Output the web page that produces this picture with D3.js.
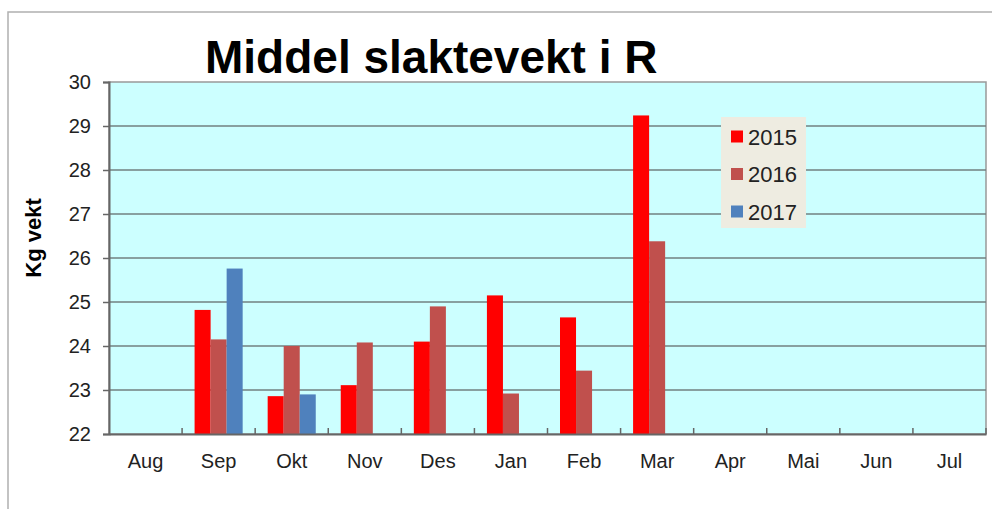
<!DOCTYPE html>
<html>
<head>
<meta charset="utf-8">
<script src="https://cdn.jsdelivr.net/npm/d3@7"></script>
<style>
  body { margin: 0; background: #fff; }
  text { font-family: "Liberation Sans", Arial, sans-serif; }
</style>
</head>
<body>
<div id="chart"></div>
<script>
// data
var months = ["Aug", "Sep", "Okt", "Nov", "Des", "Jan", "Feb", "Mar", "Apr", "Mai", "Jun", "Jul"];
var years = ["2015", "2016", "2017"];
var v2015 = [null, 24.82, 22.86, 23.11, 24.1, 25.15, 24.65, 29.24, null, null, null, null];
var v2016 = [null, 24.15, 24.0, 24.08, 24.9, 22.92, 23.44, 26.38, null, null, null, null];
var v2017 = [null, 25.76, 22.9, null, null, null, null, null, null, null, null, null];
var yTicks = [22, 23, 24, 25, 26, 27, 28, 29, 30];
var colors = ["#ff0000", "#c0504d", "#4f81bd"];

var series = [v2015, v2016, v2017];
var data = [];
months.forEach(function(m, i) {
  years.forEach(function(yr, j) {
    if (series[j][i] != null) data.push({ month: m, year: yr, value: series[j][i] });
  });
});

var W = 992, H = 509;
var margin = {top: 82, right: 6, bottom: 75, left: 109},
    width = W - margin.left - margin.right,
    height = H - margin.top - margin.bottom;

var root = d3.select("#chart")
  .append("svg")
    .attr("width", W)
    .attr("height", H);

// outer chart border
root.append("rect")
  .attr("x", 8).attr("y", 12)
  .attr("width", 1100).attr("height", 600)
  .attr("fill", "none")
  .attr("stroke", "#b0b0b0")
  .attr("stroke-width", 1.5);

// title
root.append("text")
  .attr("x", 205).attr("y", 73)
  .style("font-size", "46px")
  .style("font-weight", "bold")
  .attr("fill", "#000")
  .text("Middel slaktevekt i R");

// y label
root.append("text")
  .attr("transform", "translate(41,238)rotate(-90)")
  .attr("text-anchor", "middle")
  .style("font-size", "22px")
  .style("font-weight", "bold")
  .text("Kg vekt");

var svg = root.append("g")
  .attr("transform", "translate(" + margin.left + "," + margin.top + ")");

var x = d3.scaleBand().domain(months).range([0, width]).padding(0);
var x1 = d3.scaleBand().domain(years).range([0, x.bandwidth()]).paddingInner(0).paddingOuter(0.78);
var y = d3.scaleLinear().domain([22, 30]).range([height, 0]);
var color = d3.scaleOrdinal().domain(years).range(colors);

// plot background
svg.append("rect")
  .attr("width", width).attr("height", height)
  .attr("fill", "#ccffff")
  .attr("stroke", "#999")
  .attr("stroke-width", 1.5);

// gridlines
svg.selectAll(".grid")
  .data(yTicks.slice(1, -1))
  .enter()
  .append("line")
    .attr("x1", 0).attr("x2", width)
    .attr("y1", function(d) { return y(d); })
    .attr("y2", function(d) { return y(d); })
    .attr("stroke", "#728080")
    .attr("stroke-width", 1.6);

// bars
svg.selectAll(".bar")
  .data(data)
  .enter()
  .append("rect")
    .attr("x", function(d) { return x(d.month) + x1(d.year); })
    .attr("y", function(d) { return y(d.value); })
    .attr("width", x1.bandwidth())
    .attr("height", function(d) { return height - y(d.value); })
    .attr("fill", function(d) { return color(d.year); });

// Y axis
var yAxis = svg.append("g")
  .call(d3.axisLeft(y).tickValues(yTicks).tickSize(6).tickPadding(12));
yAxis.select(".domain").attr("stroke", "#666").attr("stroke-width", 2);
yAxis.selectAll(".tick line").attr("stroke", "#666").attr("stroke-width", 1.5);
yAxis.selectAll("text").style("font-size", "20px").attr("fill", "#222");

// X axis
var xAxis = svg.append("g")
  .attr("transform", "translate(0," + height + ")")
  .call(d3.axisBottom(x).tickSize(0).tickPadding(20));
xAxis.select(".domain").attr("stroke", "#666").attr("stroke-width", 2);
xAxis.selectAll("text").style("font-size", "20px").attr("fill", "#222");

// category boundary ticks (inside)
svg.selectAll(".xtick")
  .data(months.slice(1).concat(["end"]))
  .enter()
  .append("line")
    .attr("x1", function(d) { return d == "end" ? width : x(d); })
    .attr("x2", function(d) { return d == "end" ? width : x(d); })
    .attr("y1", height).attr("y2", height - 6)
    .attr("stroke", "#666")
    .attr("stroke-width", 1.5);

// legend
var legend = root.append("g").attr("transform", "translate(721,117)");
legend.append("rect")
  .attr("width", 85).attr("height", 111)
  .attr("fill", "#eeece1");
var item = legend.selectAll(".item")
  .data(years)
  .enter()
  .append("g")
    .attr("transform", function(d, i) { return "translate(0," + (19.5 + i * 37.5) + ")"; });
item.append("rect")
  .attr("x", 10).attr("y", -6)
  .attr("width", 12).attr("height", 12)
  .attr("fill", function(d) { return color(d); });
item.append("text")
  .attr("x", 27).attr("y", 8)
  .style("font-size", "22px")
  .attr("fill", "#222")
  .text(function(d) { return d; });
</script>
</body>
</html>
